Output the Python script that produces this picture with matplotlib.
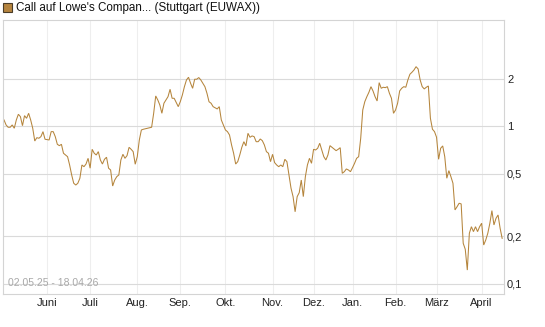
import matplotlib
matplotlib.use("Agg")
import matplotlib.pyplot as plt
import numpy as np
import pandas as pd
from matplotlib.patches import Rectangle
from matplotlib.ticker import NullLocator, FixedLocator, FixedFormatter

plt.rcParams['font.family'] = ['Liberation Sans', 'DejaVu Sans']

# ---- data -------------------------------------------------------------
title = "Call auf Lowe's Compan... (Stuttgart (EUWAX))"
range_text = "02.05.25 - 18.04.26"
start_date = "2025-05-02"
end_date = "2026-04-17"
holidays = ["2025-12-24", "2025-12-25", "2025-12-26", "2025-12-31",
            "2026-01-01", "2026-04-03", "2026-04-06"]
month_labels = ["Juni", "Juli", "Aug.", "Sep.", "Okt.", "Nov.", "Dez.",
                "Jan.", "Feb.", "März", "April"]
y_ticks = [0.1, 0.2, 0.5, 1, 2]
y_ticklabels = ["0,1", "0,2", "0,5", "1", "2"]

# trading-day index of each reading and the price
day = [0, 1, 2, 3, 4, 5, 6, 7, 8, 9, 10, 11, 12, 13, 14, 15, 16, 17, 18, 19,
       20, 22, 23, 24, 25, 26, 27, 28, 29, 31, 32, 33, 34, 35, 36, 37, 38, 39,
       40, 41, 42, 43, 44, 45, 46, 47, 48, 49, 50, 51, 52, 53, 54, 55, 56, 57,
       58, 59, 60, 61, 62, 63, 64, 65, 66, 67, 68, 70, 72, 73, 74, 75, 76, 77,
       78, 79, 80, 81, 82, 83, 85, 86, 87, 88, 89, 90, 91, 92, 93, 94, 95, 96,
       97, 98, 99, 100, 101, 102, 104, 105, 106, 107, 108, 109, 110, 111, 112,
       113, 114, 115, 116, 117, 118, 119, 120, 121, 122, 123, 124, 125, 126,
       127, 128, 129, 130, 131, 132, 133, 134, 135, 136, 137, 138, 139, 140,
       141, 142, 143, 144, 145, 146, 147, 148, 149, 150, 151, 152, 153, 154,
       155, 156, 157, 158, 159, 160, 162, 163, 164, 165, 166, 167, 168, 169,
       170, 171, 172, 173, 174, 175, 176, 177, 178, 179, 180, 181, 182, 183,
       184, 185, 186, 187, 188, 189, 190, 191, 192, 193, 194, 195, 196, 197,
       198, 199, 200, 201, 202, 203, 204, 205, 206, 207, 208, 209, 210, 211,
       212, 213, 214, 215, 216, 217, 218, 219, 220, 221, 222, 223, 224, 225,
       226, 227, 228, 229, 230, 231, 232, 233, 234, 235, 236, 237, 238, 239,
       240, 241, 242, 243]
price = [1.095, 1.018, 0.984, 0.984, 1.018, 0.970, 1.095, 1.190, 1.149, 1.007,
         1.166, 1.122, 1.207, 1.095, 0.970, 0.805, 0.845, 0.838, 0.858, 0.923,
         0.826, 0.817, 0.923, 0.923, 0.858, 0.767, 0.752, 0.767, 0.673, 0.640,
         0.567, 0.490, 0.434, 0.423, 0.434, 0.467, 0.567, 0.553, 0.575, 0.625,
         0.541, 0.713, 0.673, 0.656, 0.689, 0.610, 0.575, 0.616, 0.635, 0.541,
         0.527, 0.417, 0.455, 0.478, 0.490, 0.610, 0.663, 0.625, 0.650, 0.734,
         0.713, 0.689, 0.573, 0.640, 0.817, 0.946, 0.956, 0.970, 0.984, 1.207,
         1.555, 1.467, 1.363, 1.207, 1.398, 1.467, 1.539, 1.715, 1.503, 1.503,
         1.330, 1.432, 1.578, 1.781, 1.965, 2.044, 1.873, 1.739, 1.986, 1.986,
         2.035, 1.965, 1.873, 1.781, 1.617, 1.429, 1.398, 1.330, 1.286, 1.330,
         1.095, 1.018, 0.946, 0.923, 0.879, 0.760, 0.673, 0.575, 0.595, 0.656,
         0.734, 0.797, 0.749, 0.901, 0.850, 0.867, 0.858, 0.797, 0.797, 0.829,
         0.809, 0.760, 0.689, 0.673, 0.595, 0.663, 0.587, 0.567, 0.553, 0.567,
         0.553, 0.616, 0.595, 0.490, 0.404, 0.357, 0.286, 0.357, 0.378, 0.455,
         0.357, 0.478, 0.567, 0.625, 0.581, 0.713, 0.706, 0.724, 0.779, 0.706,
         0.640, 0.610, 0.656, 0.752, 0.734, 0.699, 0.713, 0.730, 0.502, 0.514,
         0.535, 0.527, 0.514, 0.545, 0.581, 0.625, 0.640, 0.838, 1.267, 1.431,
         1.539, 1.641, 1.781, 1.673, 1.539, 1.445, 1.889, 1.740, 1.766, 1.756,
         1.781, 1.618, 1.503, 1.207, 1.267, 1.398, 1.673, 1.740, 1.781, 1.766,
         1.965, 2.136, 2.199, 2.274, 2.386, 2.308, 1.965, 1.781, 1.723, 1.766,
         1.799, 1.122, 0.956, 0.923, 0.850, 0.616, 0.724, 0.749, 0.640, 0.467,
         0.522, 0.478, 0.434, 0.294, 0.308, 0.324, 0.321, 0.1805, 0.1654, 0.122,
         0.209, 0.230, 0.214, 0.230, 0.214, 0.230, 0.242, 0.176, 0.1894, 0.209,
         0.242, 0.291, 0.236, 0.260, 0.273, 0.225, 0.194]

# ---- trading calendar -> month tick positions ------------------------
dates = pd.bdate_range(start_date, end_date)
dates = dates[~dates.isin(pd.to_datetime(holidays))]
periods = dates.to_period("M")
first_idx = [int(np.argmax(periods == p)) for p in periods.unique()]
tick_pos = first_idx[1:]  # from June on

# ---- figure ------------------------------------------------------------
W, H = 545, 327
fig = plt.figure(figsize=(W / 100, H / 100), dpi=100)
L, R, T, B = 3, 504, 20, 294
ax = fig.add_axes([L / W, 1 - B / H, (R - L) / W, (B - T) / H])

line_color = '#b5853c'
ax.plot(day, price, color=line_color, lw=0.75, solid_joinstyle='miter')

ax.set_yscale('log')
ax.set_ylim(0.086, 4.72)
ax.set_xlim(-0.5, 243.9)

ax.yaxis.set_major_locator(FixedLocator(y_ticks))
ax.yaxis.set_major_formatter(FixedFormatter(y_ticklabels))
ax.yaxis.set_minor_locator(NullLocator())
ax.yaxis.tick_right()
ax.set_xticks(tick_pos)
ax.set_xticklabels(month_labels)
ax.xaxis.set_minor_locator(NullLocator())
ax.tick_params(axis='both', length=0, labelsize=8, colors='#222222')
ax.tick_params(axis='y', pad=2.2)
ax.tick_params(axis='x', pad=3)

ax.grid(axis='y', color='#dadada', lw=0.8)
ax.grid(axis='x', color='#eeeeee', lw=0.8)
ax.set_axisbelow(True)
for s in ax.spines.values():
    s.set_color('#d4d4d4')
    s.set_linewidth(0.8)

ax.text(0.01, 0.023, range_text, transform=ax.transAxes, fontsize=7.5,
        color='#a8a8a8', ha='left', va='bottom')

# legend square + title
fig.add_artist(Rectangle((3 / W, 1 - 12 / H), 9 / W, 9 / H,
                         transform=fig.transFigure, facecolor='#b5843f',
                         edgecolor='#4a3c28', lw=0.8))
fig.text(16 / W, 1 - 7.8 / H, title, fontsize=8.4, color='#111111',
         ha='left', va='center')

fig.savefig("out.png", dpi=100)
